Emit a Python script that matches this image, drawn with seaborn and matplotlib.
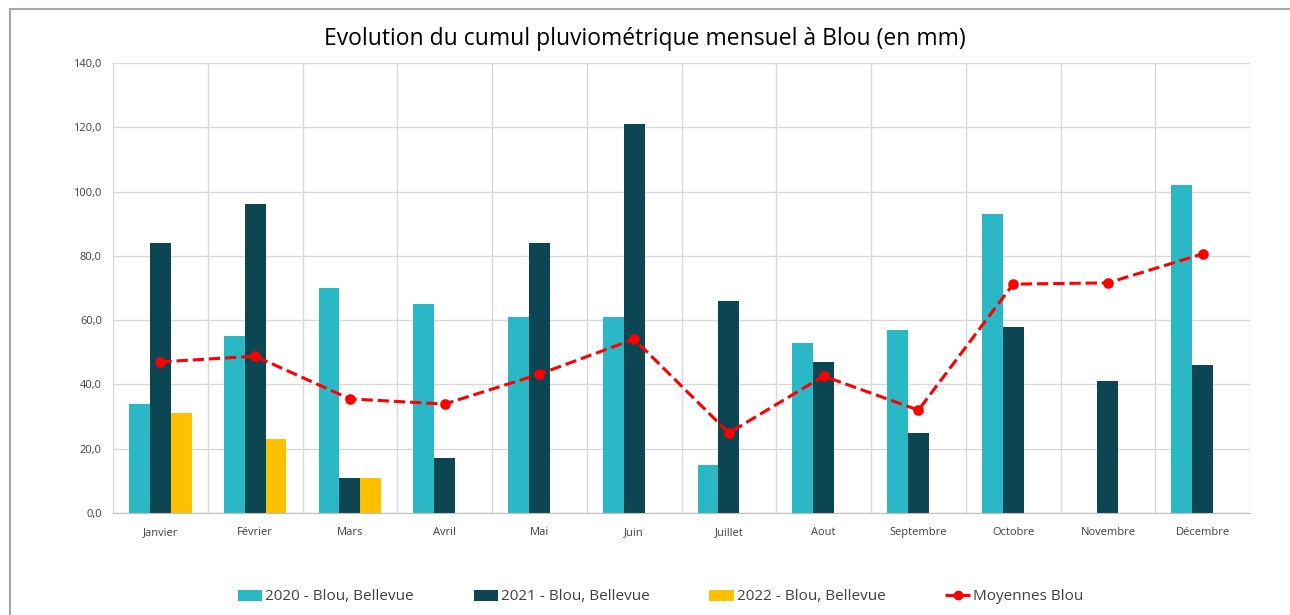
import numpy as np
import pandas as pd
import seaborn as sns
import matplotlib.pyplot as plt
from matplotlib.patches import Patch
from matplotlib.lines import Line2D
from matplotlib.ticker import FuncFormatter, FixedLocator

mois = ['Janvier', 'Février', 'Mars', 'Avril', 'Mai', 'Juin', 'Juillet',
        'Aout', 'Septembre', 'Octobre', 'Novembre', 'Décembre']
pluie_2020 = [34, 55, 70, 65, 61, 61, 15, 53, 57, 93, np.nan, 102]
pluie_2021 = [84, 96, 11, 17, 84, 121, 66, 47, 25, 58, 41, 46]
pluie_2022 = [31, 23, 11] + [np.nan] * 9
moyennes = [47.0, 48.8, 35.5, 33.9, 43.2, 54.1, 24.9, 42.6, 32.0, 71.2, 71.6, 80.6]
series = ['2020 - Blou, Bellevue', '2021 - Blou, Bellevue', '2022 - Blou, Bellevue']
couleurs = ['#2BB8C6', '#0C4653', '#FFC000']

sns.set_style('white')
plt.rcParams['font.family'] = ['Open Sans', 'DejaVu Sans']

df = pd.DataFrame({
    'Mois': mois * 3,
    'Pluie': pluie_2020 + pluie_2021 + pluie_2022,
    'Serie': [s for s in series for _ in mois],
})

fig = plt.figure(figsize=(12.9, 6.15), dpi=100)
ax = fig.add_axes([113 / 1290, 1 - 513 / 615, 1137 / 1290, 450 / 615])

sns.barplot(data=df, x='Mois', y='Pluie', hue='Serie', order=mois,
            hue_order=series, palette=couleurs, width=0.66, saturation=1,
            edgecolor='none', ax=ax, legend=False)
sns.pointplot(x=mois, y=moyennes, order=mois, color='#FF0000',
              linestyles='--', markers='o', markersize=6, linewidth=2.2,
              ax=ax)

ax.set_xlim(-0.5, 11.5)
ax.set_ylim(0, 140)
ax.set_yticks(np.arange(0, 141, 20))
ax.yaxis.set_major_formatter(FuncFormatter(lambda v, p: f'{v:.1f}'.replace('.', ',')))
ax.xaxis.set_minor_locator(FixedLocator(np.arange(-0.5, 12, 1)))
ax.grid(True, axis='y', which='major', color='#D9D9D9', linewidth=1)
ax.grid(True, axis='x', which='minor', color='#D9D9D9', linewidth=1)
ax.set_axisbelow(True)
ax.tick_params(axis='x', which='major', length=0, labelsize=8, colors='#404040', pad=10)
ax.tick_params(axis='x', which='minor', length=5, color='#BFBFBF', direction='out')
ax.tick_params(axis='y', length=0, labelsize=8, colors='#404040', pad=8)
ax.set_xlabel('')
ax.set_ylabel('')
for side in ['top', 'right']:
    ax.spines[side].set_visible(False)
ax.spines['left'].set_color('#D9D9D9')
ax.spines['bottom'].set_color('#BFBFBF')

fig.text(0.5, 1 - 39 / 615, 'Evolution du cumul pluviométrique mensuel à Blou (en mm)',
         ha='center', va='center', fontsize=16.5, color='#000000')

handles = [Patch(facecolor=c, edgecolor='none') for c in couleurs]
handles.append(Line2D([0], [0], color='#FF0000', linestyle='--', linewidth=2.2,
                      marker='o', markersize=6))
fig.legend(handles, series + ['Moyennes Blou'], loc='center',
           bbox_to_anchor=(0.512, 1 - 597 / 615), ncol=4, frameon=False,
           fontsize=11, handlelength=1.6, handleheight=0.7, columnspacing=3.9,
           handletextpad=0.2, labelcolor='#404040')

# cadre gris (bord gauche et haut seulement)
fig.add_artist(Line2D([10 / 1290, 10 / 1290], [0, 1 - 9 / 615],
                      transform=fig.transFigure, color='#A6A6A6', linewidth=1.5))
fig.add_artist(Line2D([10 / 1290, 1], [1 - 9 / 615, 1 - 9 / 615],
                      transform=fig.transFigure, color='#A6A6A6', linewidth=1.5))

fig.savefig('out.png', dpi=100)
